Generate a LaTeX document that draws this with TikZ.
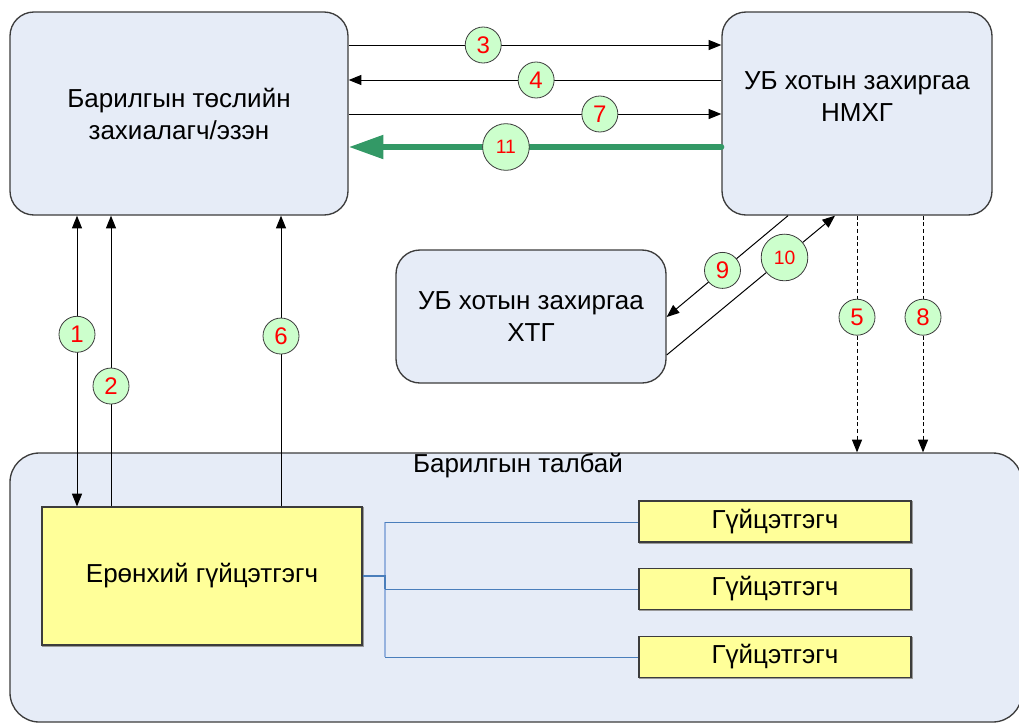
\documentclass[tikz,border=0pt]{standalone}
\usepackage{fontspec}
\setmainfont{Liberation Sans}
\usetikzlibrary{arrows.meta}
\definecolor{boxblue}{RGB}{230,236,247}
\definecolor{bordergray}{RGB}{60,60,60}
\definecolor{numfill}{RGB}{204,255,204}
\definecolor{numred}{RGB}{255,0,0}
\definecolor{arrgreen}{RGB}{51,153,102}
\definecolor{treeblue}{RGB}{74,126,187}
\definecolor{treelight}{RGB}{150,178,222}
\definecolor{yellowbox}{RGB}{255,255,153}
\newcommand{\mainfs}{\fontsize{19.5}{24}\selectfont}
\begin{document}
\begin{tikzpicture}[x=0.75pt,y=-0.75pt,
  bluebox/.style={draw=bordergray, fill=boxblue, rounded corners=18pt, line width=1pt,
    align=center, font=\mainfs, inner sep=0pt},
  yellowbox/.style={draw=bordergray, fill=yellowbox, line width=0.9pt, align=center, font=\mainfs,
    inner sep=0pt, preaction={draw=gray!80, line width=1pt, transform canvas={xshift=0.8pt,yshift=-0.8pt}}},
  num/.style={circle, solid, draw=bordergray, fill=numfill, line width=0.6pt, text=numred,
    minimum size=27pt, inner sep=0pt, font=\fontsize{18}{20}\selectfont},
  bignum/.style={num, minimum size=35pt, font=\fontsize{14.5}{16}\selectfont},
  arr/.style={draw=black, line width=0.75pt, -{Triangle[length=9.5pt,width=7.5pt]}},
  dasharr/.style={arr, dash pattern=on 3pt off 2pt},
  greenarr/.style={draw=arrgreen, line width=4.5pt, line cap=round, -{Triangle[length=26pt,width=17pt]}},
  treeline/.style={draw=treeblue, line width=0.75pt}
]
\useasboundingbox (0,0) rectangle (1019,722);
\clip (0,0) rectangle (1019,722);

% main boxes
\node[bluebox, minimum width=759pt, minimum height=201.75pt, rounded corners=22pt] (D) at (516,587.5) {};
\node[font=\mainfs] (Dlab) at (518,466) {Барилгын талбай};
\node[bluebox, minimum width=253.5pt, minimum height=152.25pt] (A) at (179,113.5) {Барилгын төслийн\\захиалагч/эзэн};
\node[bluebox, minimum width=202.5pt, minimum height=152.25pt] (B) at (857,113.5) {};
\node[font=\mainfs, align=center] (Blab) at (857,97) {УБ хотын захиргаа\\НМХГ};
\node[bluebox, minimum width=202.5pt, minimum height=99.75pt] (C) at (531,316.5) {УБ хотын захиргаа\\ХТГ};

\node[yellowbox, minimum width=240pt, minimum height=103.5pt] (E) at (202,576) {Ерөнхий гүйцэтгэгч};
\node[yellowbox, minimum width=204pt, minimum height=30.75pt] (S1) at (775,521.5) {Гүйцэтгэгч};
\node[yellowbox, minimum width=204pt, minimum height=30.75pt] (S2) at (775,589) {Гүйцэтгэгч};
\node[yellowbox, minimum width=204pt, minimum height=30.75pt] (S3) at (775,657) {Гүйцэтгэгч};

% helper coordinates
\coordinate (y45) at (0,45);
\coordinate (y80) at (0,80);
\coordinate (y114) at (0,114);
\coordinate (y147) at (0,147);
\coordinate (x77) at (77,0);
\coordinate (x111) at (111,0);
\coordinate (x281) at (281,0);
\coordinate (x857) at (857,0);
\coordinate (x923) at (923,0);
\coordinate (x788) at (788,0);
\coordinate (x835) at (835,0);
\coordinate (y317) at (0,317);
\coordinate (y355) at (0,355);

% horizontal arrows
\draw[arr] (A.east |- y45) -- node[num, pos=0.361] {3} (B.west |- y45);
\draw[arr] (B.west |- y80) -- node[num, pos=0.497] {4} (A.east |- y80);
\draw[arr] (A.east |- y114) -- node[num, pos=0.674] {7} (B.west |- y114);
\draw[greenarr] (B.west |- y147) -- node[bignum, pos=0.578] {11} (A.east |- y147);

% vertical arrows
\draw[arr, {Triangle[length=9.5pt,width=7.5pt]}-{Triangle[length=9.5pt,width=7.5pt]}] (A.south -| x77) -- node[num, pos=0.408] {1} (E.north -| x77);
\draw[arr] (E.north -| x111) -- node[num, pos=0.414] {2} (A.south -| x111);
\draw[arr] (E.north -| x281) -- node[num, pos=0.586] {6} (A.south -| x281);
\draw[dasharr] (B.south -| x857) -- node[num, pos=0.429] {5} (D.north -| x857);
\draw[dasharr] (B.south -| x923) -- node[num, pos=0.429] {8} (D.north -| x923);

% diagonal arrows
\draw[arr] (B.south -| x788) -- node[num, pos=0.54] {9} (C.east |- y317);
\draw[arr] (C.east |- y355) -- node[bignum, pos=0.7] {10} (B.south -| x835);

% tree
\coordinate (T) at (385,576);
\coordinate (T1) at (385,522);
\coordinate (T2) at (385,589);
\coordinate (T3) at (385,657);
\draw[draw=treelight, line width=1.2pt] (T1) -- (T3);
\draw[treeline, line width=1.5pt] (E.east) -- (T) -- (T2);
\draw[treeline] (T1) -- (S1.west |- T1);
\draw[treeline] (T2) -- (S2.west |- T2);
\draw[treeline] (T3) -- (S3.west |- T3);
\end{tikzpicture}
\end{document}
